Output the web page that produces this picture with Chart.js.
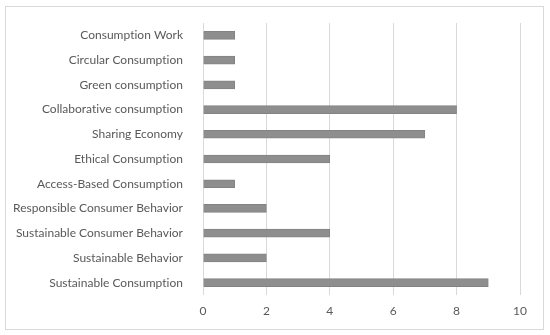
<!DOCTYPE html>
<html>
<head>
<meta charset="utf-8">
<script src="https://cdn.jsdelivr.net/npm/chart.js@4"></script>
<style>
  html, body { margin: 0; padding: 0; background: #fff; }
  #wrap { position: relative; width: 550px; height: 335px; }
  #frame { position: absolute; left: 5px; top: 6px; width: 537px; height: 322px; border: 1px solid #d9d9d9; pointer-events: none; }
</style>
</head>
<body>
<div id="wrap">
  <canvas id="chart" width="550" height="335"></canvas>
  <div id="frame"></div>
</div>
<script>
const categories = [
  'Consumption Work',
  'Circular Consumption',
  'Green consumption',
  'Collaborative consumption',
  'Sharing Economy',
  'Ethical Consumption',
  'Access-Based Consumption',
  'Responsible Consumer Behavior',
  'Sustainable Consumer Behavior',
  'Sustainable Behavior',
  'Sustainable Consumption',
]
const counts = [1, 1, 1, 8, 7, 4, 1, 2, 4, 2, 9]
const xTicks = [0, 2, 4, 6, 8, 10]

const TEXT = '#595959'
const GRID = '#d9d9d9'
const FONT = { family: 'Lato', size: 12 }

// tiny letter spacing keeps Lato from joining "ti" into a ligature
const noLigatures = {
  id: 'noLigatures',
  beforeDraw: chart => { chart.ctx.letterSpacing = '0.01px' },
}

new Chart(document.getElementById('chart'), {
  type: 'bar',
  data: {
    labels: categories,
    datasets: [{
      data: counts,
      backgroundColor: '#8e8e8e',
      borderColor: '#838383',
      borderWidth: 1,
      barThickness: 8,
    }]
  },
  options: {
    indexAxis: 'y',
    responsive: false,
    animation: false,
    layout: { padding: { top: 23, right: 30, left: 0, bottom: 0 } },
    plugins: { legend: { display: false }, tooltip: { enabled: false } },
    scales: {
      x: {
        min: 0,
        max: 10,
        afterBuildTicks: s => { s.ticks = xTicks.map(v => ({ value: v })) },
        afterFit: s => { s.height = 40 },
        grid: { color: GRID, drawTicks: false },
        border: { display: false },
        ticks: { color: TEXT, font: FONT, padding: 9 },
      },
      y: {
        afterFit: s => { s.width = 203 },
        grid: { display: false },
        border: { display: false },
        ticks: { color: TEXT, font: FONT, padding: 12, autoSkip: false },
      },
    },
  },
  plugins: [noLigatures],
})
</script>
</body>
</html>
